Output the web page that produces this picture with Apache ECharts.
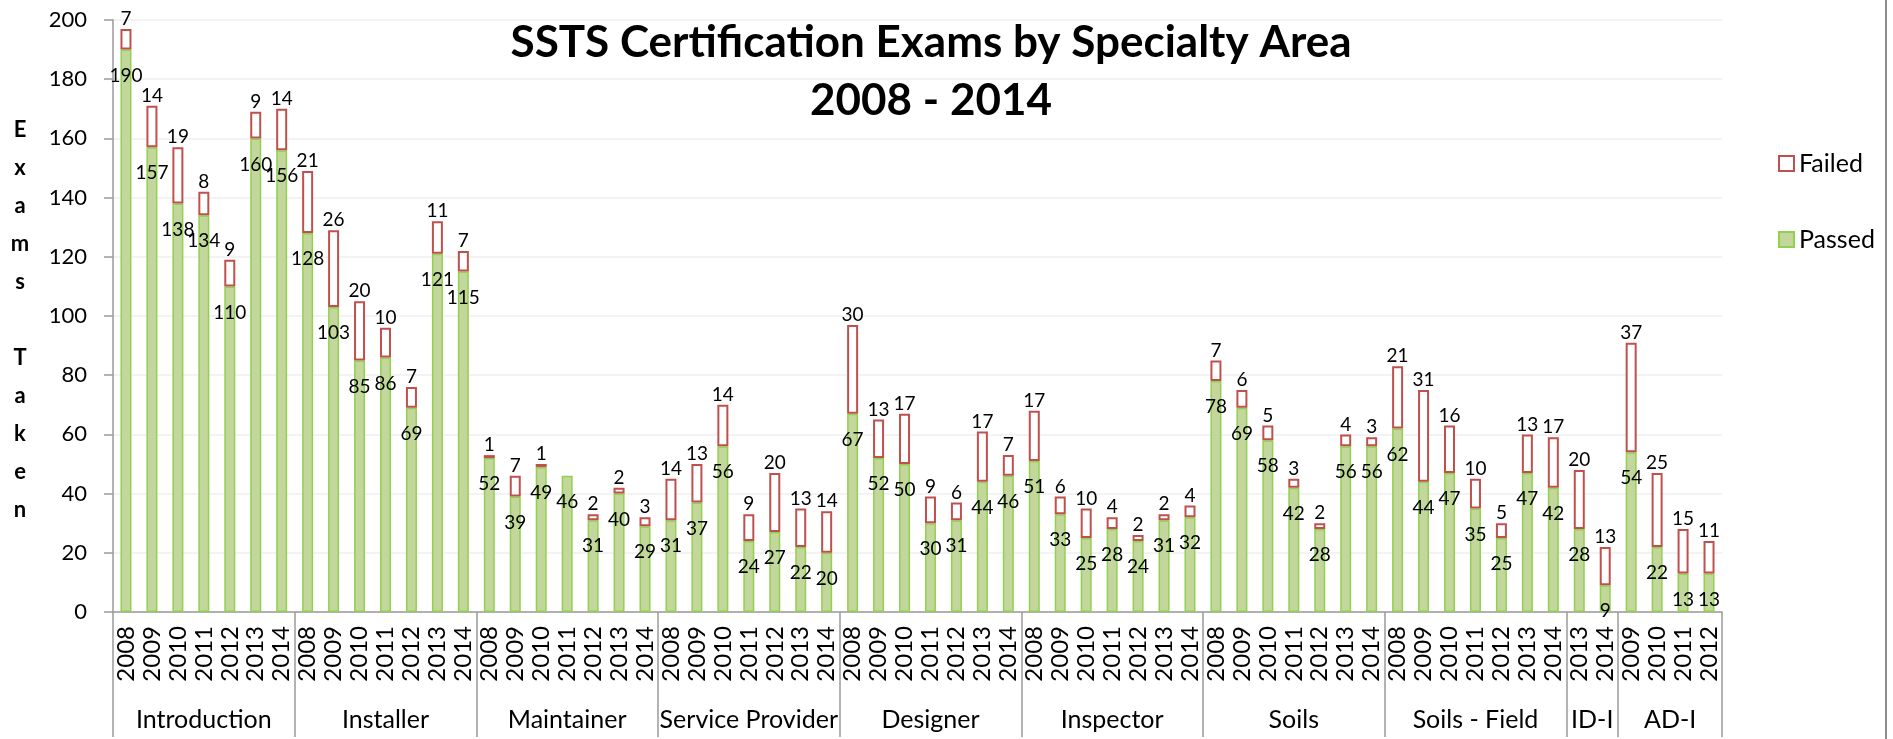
<!DOCTYPE html>
<html>
<head>
<meta charset="utf-8">
<title>SSTS Certification Exams by Specialty Area</title>
<script src="https://cdn.jsdelivr.net/npm/echarts@6/dist/echarts.min.js"></script>
<style>
  html, body { margin: 0; padding: 0; background: #ffffff; }
  #chart { width: 1893px; height: 739px; }
</style>
</head>
<body>
<div id="chart"></div>
<script>
// specialty areas and the years shown under each
const groups = ['Introduction', 'Installer', 'Maintainer', 'Service Provider', 'Designer',
  'Inspector', 'Soils', 'Soils - Field', 'ID-I', 'AD-I']
const fullYears = ['2008', '2009', '2010', '2011', '2012', '2013', '2014']
const groupYears = [
  fullYears, fullYears, fullYears, fullYears, fullYears, fullYears, fullYears, fullYears,
  ['2013', '2014'],
  ['2009', '2010', '2011', '2012'],
]

// exams passed / failed, in the same order as the categories
const passed = [
  190, 157, 138, 134, 110, 160, 156,
  128, 103, 85, 86, 69, 121, 115,
  52, 39, 49, 46, 31, 40, 29,
  31, 37, 56, 24, 27, 22, 20,
  67, 52, 50, 30, 31, 44, 46,
  51, 33, 25, 28, 24, 31, 32,
  78, 69, 58, 42, 28, 56, 56,
  62, 44, 47, 35, 25, 47, 42,
  28, 9,
  54, 22, 13, 13,
]
const failed = [
  7, 14, 19, 8, 9, 9, 14,
  21, 26, 20, 10, 7, 11, 7,
  1, 7, 1, null, 2, 2, 3,
  14, 13, 14, 9, 20, 13, 14,
  30, 13, 17, 9, 6, 17, 7,
  17, 6, 10, 4, 2, 2, 4,
  7, 6, 5, 3, 2, 4, 3,
  21, 31, 16, 10, 5, 13, 17,
  20, 13,
  37, 25, 15, 11,
]

const yMin = 0
const yMax = 200
const yStep = 20

const COLORS = {
  passedFill: '#C3D69B',
  passedBorder: '#92D050',
  failedFill: '#FFFFFF',
  failedBorder: '#C0504D',
  axis: '#9A9A9A',
  grid: '#EFEFEF',
  text: '#000000',
}
const FONT = 'Lato, "Noto Sans", sans-serif'

// flatten categories, find group edges and centres (in category units)
const categories = []
const edges = [0]
groupYears.forEach((ys) => {
  categories.push(...ys)
  edges.push(categories.length)
})
const centers = groups.map((g, i) => (edges[i] + edges[i + 1]) / 2)

const chart = echarts.init(document.getElementById('chart'), null, { renderer: 'canvas' })

chart.setOption({
  animation: false,
  backgroundColor: '#ffffff',
  title: {
    text: 'SSTS Certification Exams by Specialty Area\n2008 - 2014',
    left: 926,
    top: 9,
    textAlign: 'center',
    textStyle: {
      fontFamily: FONT,
      fontSize: 44,
      fontWeight: 'bold',
      lineHeight: 58,
      color: COLORS.text,
    },
  },
  legend: {
    data: ['Failed', 'Passed'],
    orient: 'vertical',
    left: 1773,
    top: 146,
    icon: 'rect',
    itemWidth: 15,
    itemHeight: 15,
    itemGap: 51,
    textStyle: { fontFamily: FONT, fontSize: 25, color: COLORS.text },
  },
  grid: { left: 113, right: 171, top: 20, bottom: 127 },
  xAxis: [
    {
      // year level
      type: 'category',
      data: categories,
      axisLine: { lineStyle: { color: COLORS.axis, width: 1.5 } },
      axisTick: { interval: 0, length: 73, lineStyle: { color: COLORS.axis, width: 1.5 } },
      axisLabel: {
        interval: 0,
        rotate: 90,
        margin: 14,
        fontFamily: FONT,
        fontSize: 24,
        color: COLORS.text,
      },
      splitLine: { show: false },
    },
    {
      // short marks at the bar centres
      type: 'category',
      data: categories,
      position: 'bottom',
      axisLine: { show: false },
      axisTick: {
        alignWithLabel: true,
        interval: 0,
        inside: true,
        length: 6,
        lineStyle: { color: COLORS.axis, width: 1.5 },
      },
      axisLabel: { show: false },
      splitLine: { show: false },
    },
    {
      // specialty level
      type: 'value',
      min: 0,
      max: categories.length,
      position: 'bottom',
      axisLine: { show: false },
      splitLine: { show: false },
      axisTick: {
        show: true,
        customValues: edges,
        length: 125,
        lineStyle: { color: COLORS.axis, width: 1.5 },
      },
      axisLabel: {
        customValues: centers,
        formatter: (v) => groups[centers.indexOf(v)],
        margin: 95,
        fontFamily: FONT,
        fontSize: 25,
        color: COLORS.text,
      },
    },
  ],
  yAxis: {
    type: 'value',
    min: yMin,
    max: yMax,
    interval: yStep,
    axisLine: { show: true, lineStyle: { color: COLORS.axis, width: 1.5 } },
    axisTick: { show: true, length: 9, lineStyle: { color: COLORS.axis, width: 1.5 } },
    axisLabel: { margin: 26, fontFamily: FONT, fontSize: 22, color: COLORS.text },
    splitLine: { lineStyle: { color: COLORS.grid, width: 1.5 } },
  },
  graphic: [
    {
      type: 'text',
      x: 20,
      y: 320,
      style: {
        text: 'E\nx\na\nm\ns\n\nT\na\nk\ne\nn',
        fontFamily: FONT,
        fontSize: 22,
        fontWeight: 'bold',
        lineHeight: 38,
        align: 'center',
        verticalAlign: 'middle',
        fill: COLORS.text,
      },
    },
    {
      type: 'line',
      shape: { x1: 1886, y1: 0, x2: 1886, y2: 739 },
      style: { stroke: '#8C8C8C', lineWidth: 2 },
    },
  ],
  series: [
    {
      name: 'Passed',
      type: 'bar',
      stack: 'total',
      data: passed,
      barWidth: 11,
      itemStyle: {
        color: COLORS.passedFill,
        borderColor: COLORS.passedBorder,
        borderWidth: 1.5,
      },
      label: {
        show: true,
        position: 'insideTop',
        distance: 16,
        fontFamily: FONT,
        fontSize: 19,
        lineHeight: 20,
        color: COLORS.text,
      },
    },
    {
      name: 'Failed',
      type: 'bar',
      stack: 'total',
      data: failed,
      barWidth: 11,
      itemStyle: {
        color: COLORS.failedFill,
        borderColor: COLORS.failedBorder,
        borderWidth: 2,
      },
      label: {
        show: true,
        position: 'top',
        distance: 0,
        fontFamily: FONT,
        fontSize: 19,
        lineHeight: 20,
        color: COLORS.text,
      },
    },
  ],
})
</script>
</body>
</html>
